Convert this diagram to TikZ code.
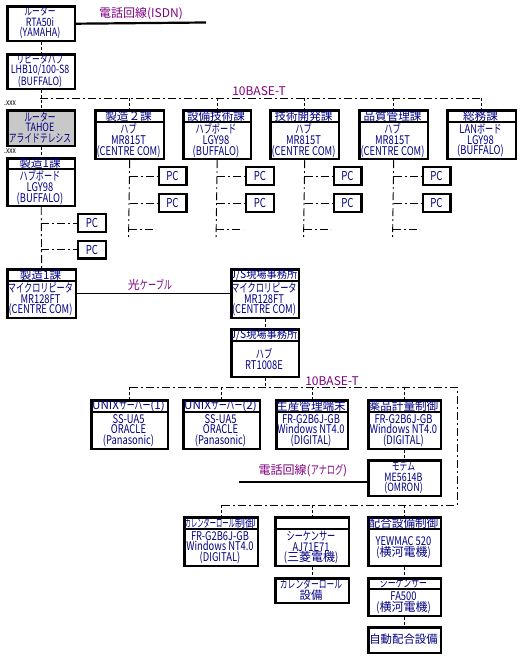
\documentclass[tikz,border=0pt]{standalone}
\usepackage{fontspec}
\setmainfont{Noto Sans CJK JP}
\newfontfamily\jpf{Noto Sans CJK JP}
\newfontfamily\jpn{Noto Sans CJK JP}[FakeStretch=0.88]
\newfontfamily\bodyf{Noto Sans CJK JP}[FakeStretch=0.78]
\newfontfamily\knf{Noto Sans CJK JP}[FakeStretch=0.68]
\newfontfamily\knnf{Noto Sans CJK JP}[FakeStretch=0.54]
\newcommand\kj[1]{{\jpf #1}}
\newcommand\kn[1]{{\knf #1}}
\newcommand\knn[1]{{\knnf #1}}
\usetikzlibrary{calc}
\definecolor{navy}{RGB}{0,0,128}
\definecolor{purp}{RGB}{128,0,128}
\definecolor{tgray}{RGB}{200,200,200}
\tikzset{
  boxst/.style={draw=black, line width=2.4pt, inner sep=0pt, rectangle},
  htxt/.style={text=navy, font=\jpf\fontsize{11.6}{11.6}\selectfont, inner sep=0pt},
  btxt/.style={text=navy, font=\bodyf\fontsize{12}{10.6}\selectfont, align=center, inner sep=0pt},
  ptxt/.style={text=navy, font=\bodyf\fontsize{11.4}{10.5}\selectfont, align=center, inner sep=0pt},
  hsep/.style={line width=1.8pt},
  dd/.style={line width=0.9pt, dash pattern=on 8pt off 3pt on 2pt off 3pt},
  dsh/.style={line width=0.9pt, dash pattern=on 3pt off 2pt},
  phone/.style={line width=2.2pt},
  fiber/.style={line width=1pt},
  lbl/.style={text=purp, font=\jpf\fontsize{12}{12}\selectfont, inner sep=0pt},
  xxx/.style={font=\bodyf\fontsize{8.5}{8.5}\selectfont, inner sep=0pt},
  pcst/.style={boxst, minimum width=27.6pt, minimum height=17.6pt, text=navy, font=\bodyf\fontsize{12.3}{11}\selectfont},
  plainbox/.style={},
  graybox/.style={fill=tgray},
}
% header box: name, x, y, w, h, header height, header font, header text, body
\newcommand\mkH[9]{%
  \node[boxst, anchor=north west, minimum width={#4pt-2.4pt}, minimum height={#5pt-2.4pt}] (#1) at ({#2+1.2},{#3+1.2}) {};
  \draw[hsep] ({#2+1},{#3+#6}) -- ({#2+#4-1},{#3+#6});
  \node[htxt] (#1h) at ({#2+#4/2},{#3+#6/2+0.8}) {#7#8};
  \node[btxt] (#1b) at ({#2+#4/2},{#3+#6+(#5-#6)/2}) {#9};
}
% plain box: style, name, x, y, w, h, body
\newcommand\mkP[7]{%
  \node[boxst, #1, anchor=north west, minimum width={#5pt-2.4pt}, minimum height={#6pt-2.4pt}] (#2) at ({#3+1.2},{#4+1.2}) {};
  \node[ptxt] (#2b) at ({#3+#5/2},{#4+#6/2+0.3}) {#7};
}
\newcommand\mkpc[3]{\node[pcst] (#1) at ({#2},{#3}) {PC};}

\begin{document}
\begin{tikzpicture}[x=1pt,y=-1pt]
\useasboundingbox (0,0) rectangle (520,660);

% ---------- top part ----------
\mkP{plainbox}{r1}{5}{4}{70}{37}{\kn{ルーター}\\RTA50i\\(YAMAHA)}
\mkP{plainbox}{lhb}{5}{52}{70}{37}{\kn{リピータハブ}\\LHB10/100-S8\\(BUFFALO)}
\mkP{graybox}{tahoe}{5}{108}{70}{38}{\kn{ルーター}\\TAHOE\\\kn{アライドテレシス}}
\mkH{hub1}{5}{156}{70}{50}{13}{}{製造1課}{\kn{ハブボード}\\LGY98\\(BUFFALO)}

\mkH{s2}{93}{108}{71}{51}{14}{}{製造２課}{\kn{ハブ}\\MR815T\\(CENTRE COM)}
\mkH{sb}{181}{108}{70}{51}{14}{}{設備技術課}{\kn{ハブボード}\\LGY98\\(BUFFALO)}
\mkH{gk}{268}{108}{71}{51}{14}{}{技術開発課}{\kn{ハブ}\\MR815T\\(CENTRE COM)}
\mkH{hk}{357}{108}{71}{51}{14}{}{品質管理課}{\kn{ハブ}\\MR815T\\(CENTRE COM)}
\mkH{sm}{445}{108}{71}{51}{14}{}{総務課}{LAN\kn{ボード}\\LGY98\\(BUFFALO)}

\node[xxx, anchor=west] (x1) at (4,103) {.xxx};
\node[xxx, anchor=west] (x2) at (4,151) {.xxx};

% ISDN
\coordinate (isdnE) at (206,22.5);
\draw[phone] (r1.east) -- (isdnE);
\node[lbl] (lisdn) at (141,14) {電話回線(ISDN)};

\draw[dsh] (r1.south) -- (lhb.north);
\draw[dsh] (lhb.south) -- (tahoe.north);
\draw[dsh] (tahoe.south) -- (hub1.north);

% 10BASE-T bus 1
\coordinate (b1L) at (40,98);
\draw[dd] (b1L) -- (b1L -| sm.north);
\node[lbl] (l10a) at (259,91) {10BASE-T};
\foreach \n in {s2,sb,gk,hk,sm}{\draw[dsh] (b1L -| \n.north) -- (\n.north);}

% trunks with PCs
\foreach \n/\t in {s2/128.5,sb/216,gk/303.5,hk/392.5}{
  \mkpc{\n-pa}{\t+44}{176}
  \mkpc{\n-pb}{\t+44}{203}
  \coordinate (\n-e) at (\t,240);
  \coordinate (\n-s) at (\t,229);
  \coordinate (\n-x) at (\t+27,229);
  \draw[dd] (\n.south) -- (\n-e);
  \draw[dd] (\n.south |- \n-pa.west) -- (\n-pa.west);
  \draw[dd] (\n.south |- \n-pb.west) -- (\n-pb.west);
  \draw[dd] (\n-s) -- (\n-x);
}

% ---------- middle ----------
\mkH{mr1}{5}{267}{71}{51}{14}{}{製造1課}{\kn{マイクロリピータ}\\MR128FT\\(CENTRE COM)}
\mkH{mr2}{229}{267}{70}{51}{14}{\jpn}{J/S現場事務所}{\kn{マイクロリピータ}\\MR128FT\\(CENTRE COM)}
\mkH{jsh}{229}{327}{70}{50}{14}{\jpn}{J/S現場事務所}{\kn{ハブ}\\RT1008E}

\mkpc{l-pa}{92}{223}
\mkpc{l-pb}{92}{249.5}
\draw[dd] (hub1.south) -- (mr1.north);
\draw[dd] (hub1.south |- l-pa.west) -- (l-pa.west);
\draw[dd] (hub1.south |- l-pb.west) -- (l-pb.west);

\draw[fiber] (mr1.east) -- (mr2.west);
\node[lbl] (lfib) at (150,285) {光\kn{ケーブル}};
\draw[dsh] (mr2.south) -- (jsh.north);

% ---------- lower ----------
\mkH{ux1}{89}{398}{79}{51}{14}{}{UNIX\kn{サーバー}(1)}{SS-UA5\\ORACLE\\(Panasonic)}
\mkH{ux2}{181}{398}{79}{51}{14}{}{UNIX\kn{サーバー}(2)}{SS-UA5\\ORACLE\\(Panasonic)}
\mkH{sk}{274}{398}{74}{51}{14}{}{生産管理端末}{FR-G2B6J-GB\\Windows NT4.0\\(DIGITAL)}
\mkH{yk}{366}{398}{75}{51}{14}{}{薬品計量制御}{FR-G2B6J-GB\\Windows NT4.0\\(DIGITAL)}
\mkP{plainbox}{modem}{366}{458}{75}{38}{\kn{モデム}\\ME5614B\\(OMRON)}

\mkH{cal}{182}{515}{76}{51}{14}{\jpn}{\knn{カレンダーロール}制御}{FR-G2B6J-GB\\Windows NT4.0\\(DIGITAL)}
\mkH{sq1}{273}{515}{76}{51}{14}{}{}{\kn{シーケンサー}\\AJ71E71\\(\kj{三菱電機})}
\mkP{plainbox}{cale}{273}{576}{76}{27}{\kn{カレンダーロール}\\\kj{設備}}
\mkH{hg}{366}{515}{75}{51}{14}{}{配合設備制御}{YEWMAC 520\\(\kj{横河電機})}
\mkH{sq2}{366}{576}{75}{40}{13}{}{\kn{シーケンサー}}{FA500\\(\kj{横河電機})}
\mkP{plainbox}{auto}{366}{625}{75}{28}{\kj{自動配合設備}}

% 10BASE-T bus 2
\coordinate (b2) at (264,387);
\coordinate (b2R) at (457,387);
\coordinate (b3R) at (457,505);
\coordinate (b3) at (300,505);
\draw[dsh] (jsh.south) -- (jsh.south |- b2);
\draw[dd] (b2 -| ux1.north) -- (b2R) -- (b3R) -- (b3 -| cal.north);
\node[lbl] (l10b) at (332,381) {10BASE-T};
\foreach \n in {ux1,ux2,sk,yk}{\draw[dsh] (b2 -| \n.north) -- (\n.north);}
\foreach \n in {cal,sq1,hg}{\draw[dsh] (b3 -| \n.north) -- (\n.north);}
\draw[dsh] (yk.south) -- (modem.north);
\draw[dsh] (sq1.south) -- (cale.north);
\draw[dsh] (hg.south) -- (sq2.north);
\draw[dsh] (sq2.south) -- (auto.north);

% analog line
\coordinate (anaE) at (239,482);
\draw[phone] (anaE) -- (anaE -| modem.west);
\node[lbl] (lana) at (303,471) {電話回線(\kn{アナログ})};
\end{tikzpicture}
\end{document}
